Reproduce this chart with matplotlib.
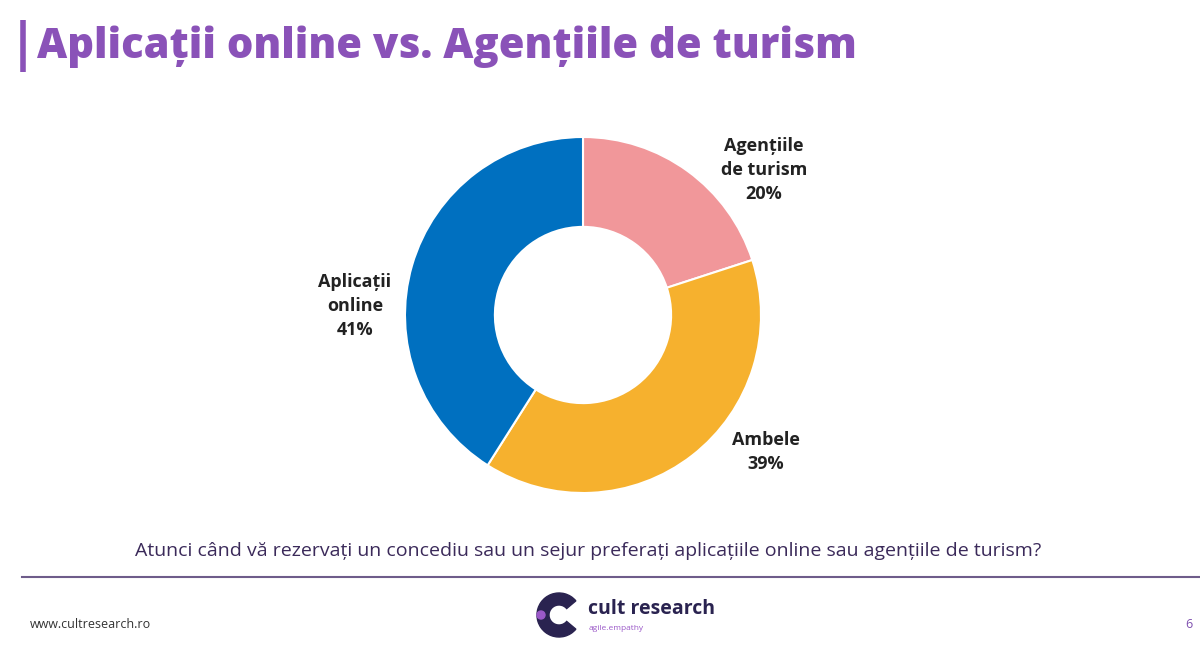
import matplotlib
matplotlib.use("Agg")
import matplotlib.pyplot as plt
from matplotlib.patches import Circle, Wedge

labels = ["Agențiile\nde turism\n20%", "Ambele\n39%", "Aplicații\nonline\n41%"]
values = [20, 39, 41]
colors = ["#F1979A", "#F6B12E", "#0070C0"]
title = "Aplicații online vs. Agențiile de turism"
question = "Atunci când vă rezervați un concediu sau un sejur preferați aplicațiile online sau agențiile de turism?"

plt.rcParams['font.family'] = ['Open Sans', 'DejaVu Sans']
fig = plt.figure(figsize=(12, 6.52), dpi=100)

bg = fig.add_axes([0, 0, 1, 1])
bg.set_xlim(0, 1200)
bg.set_ylim(652, 0)
bg.axis("off")
bg.plot([23, 23], [20, 72], color="#8A52B8", lw=4, solid_capstyle="butt")
bg.text(37, 47, title, fontsize=30, fontweight="heavy", color="#8A52B8", va="center")
bg.text(588, 551, question, fontsize=14, color="#3B2A5A", ha="center", va="center")
bg.plot([22, 1200], [577, 577], color="#6E5C8A", lw=1.5)
bg.text(30, 624, "www.cultresearch.ro", fontsize=9, color="#333333", va="center")
bg.text(1192, 624, "6", fontsize=9, color="#7E4FAF", ha="right", va="center")
bg.add_patch(Wedge((559, 615), 22, 40, 320, width=12, color="#2A2350"))
bg.add_patch(Circle((541, 615), 4, color="#9B59C8"))
bg.text(588, 609, "cult research", fontsize=14, fontweight="bold", color="#2A2350", va="center")
bg.text(589, 629, "agile.empathy", fontsize=6, color="#9B59C8", va="center")

ax = fig.add_axes([(583 - 178) / 1200, (652 - 315 - 178) / 652, 356 / 1200, 356 / 652])
ax.pie(values, colors=colors, startangle=90, counterclock=False,
       wedgeprops=dict(width=0.505, edgecolor="white", linewidth=1.5))
ax.set_xlim(-1, 1)
ax.set_ylim(-1, 1)
ax.set_aspect("equal")

pos = [(764, 170), (766, 452), (355, 306)]
for (x, y), lab in zip(pos, labels):
    bg.text(x, y, lab, fontsize=13, fontweight="bold", color="#222222",
            ha="center", va="center", linespacing=1.45)

fig.savefig("out.png", dpi=100)
